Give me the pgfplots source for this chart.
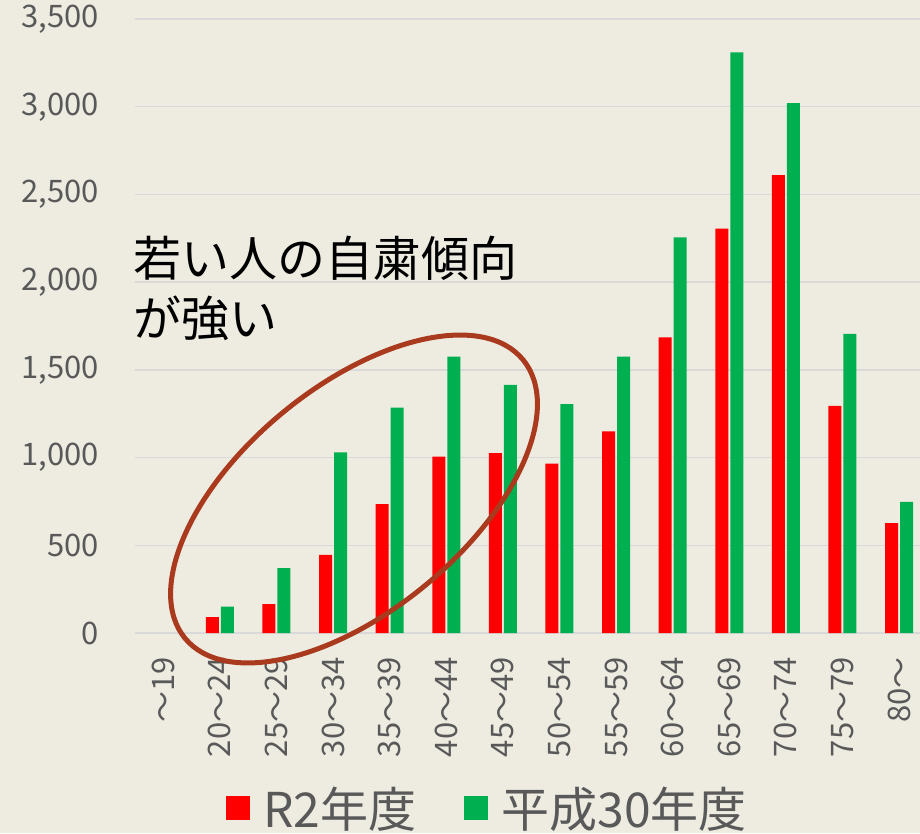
\documentclass[border=0pt]{standalone}
\usepackage{fontspec}
\usepackage{pgfplots}
\pgfplotsset{compat=1.18}
\setmainfont{Noto Sans CJK JP}
\definecolor{bg}{HTML}{EEECE1}
\definecolor{rd}{HTML}{FF0000}
\definecolor{gn}{HTML}{00B050}
\definecolor{txt}{HTML}{595959}
\definecolor{grd}{HTML}{D9D9D9}
\definecolor{ell}{HTML}{A93A1E}
\begin{document}
\begin{tikzpicture}
\useasboundingbox (0,0) rectangle (920pt,833pt);
\fill[bg] (0,0) rectangle (920pt,833pt);
\begin{axis}[
  at={(135pt,200pt)}, anchor=south west,
  scale only axis, width=785pt, height=614pt,
  ymin=0, ymax=3500, xmin=-0.5, xmax=13.37,
  ytick={0,500,...,3500},
  scaled y ticks=false,
  xtick={0,...,13},
  xticklabels={～19,20～24,25～29,30～34,35～39,40～44,45～49,50～54,55～59,60～64,65～69,70～74,75～79,80～},
  ybar=2pt, bar width=13pt,
  ymajorgrids, grid style={grd, line width=1.3pt},
  axis x line*=bottom, axis y line*=left,
  y axis line style={draw=none},
  x axis line style={grd, line width=1.5pt, -},
  major tick length=0pt,
  tick label style={font=\fontsize{31}{36}\selectfont, text=txt},
  /pgf/number format/assume math mode=true,
  /pgf/number format/1000 sep={,},
  yticklabel style={inner sep=0pt, anchor=east},
  yticklabel shift=36pt,
  xticklabel style={inner sep=0pt, rotate=90, anchor=east},
  xticklabel shift=24pt,
  clip=false,
  legend style={at={(0.4478,-0.2845)}, anchor=center, draw=none, fill=none,
    legend columns=2, font=\fontsize{48}{52}\selectfont, text=txt,
    nodes={inner sep=0pt},
    /tikz/every even column/.append style={column sep=48pt}},
]
\addplot[fill=rd, draw=none, legend image code/.code={\fill[rd] (0pt,-12pt) rectangle (24pt,12pt); \path (37pt,0pt);}]
  coordinates {(1,90) (2,165) (3,445) (4,735) (5,1005) (6,1025) (7,965) (8,1150) (9,1685) (10,2305) (11,2610) (12,1295) (13,627)};
\addlegendentry{R2年度}
\addplot[fill=gn, draw=none, legend image code/.code={\fill[gn] (0pt,-12pt) rectangle (24pt,12pt); \path (37pt,0pt);}]
  coordinates {(1,150) (2,370) (3,1030) (4,1285) (5,1575) (6,1415) (7,1305) (8,1575) (9,2255) (10,3310) (11,3020) (12,1705) (13,748)};
\addlegendentry{平成30年度}
\end{axis}
\draw[ell, line width=5pt, rotate around={39.5:(354pt,334pt)}] (354pt,334pt) ellipse [x radius=219pt, y radius=112pt];
\node[anchor=north west, inner sep=0pt, align=left, font=\fontsize{48}{60}\selectfont] at (133pt,597pt) {若い人の自粛傾向\\が強い};
\end{tikzpicture}
\end{document}
